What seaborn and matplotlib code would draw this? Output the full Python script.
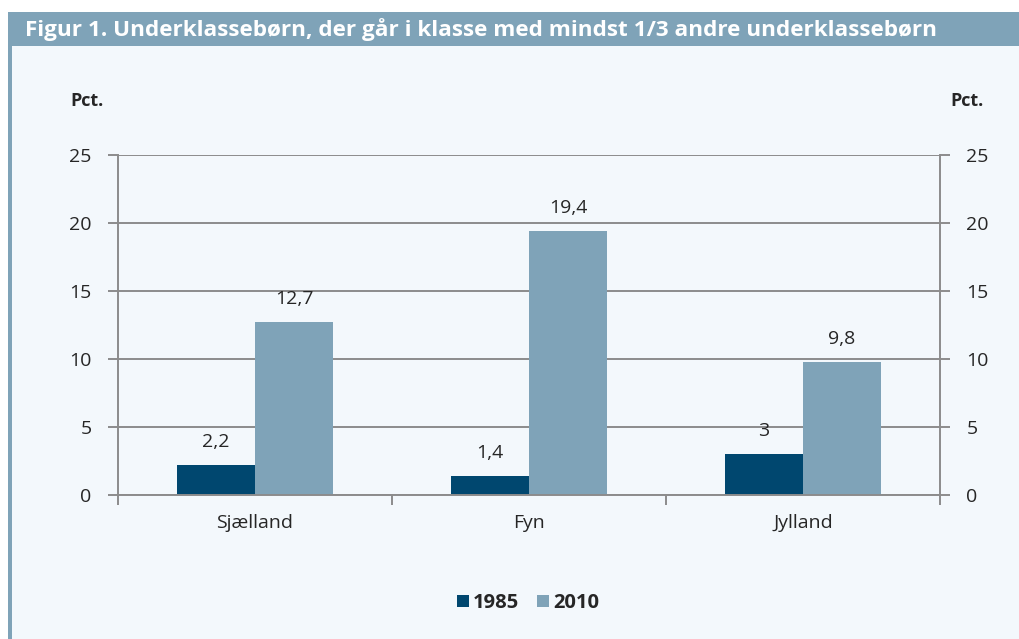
import pandas as pd
import seaborn as sns
import matplotlib.pyplot as plt
from matplotlib.patches import Rectangle

regions = ['Sjælland', 'Fyn', 'Jylland']
years = ['1985', '2010']
pct_1985 = [2.2, 1.4, 3.0]
pct_2010 = [12.7, 19.4, 9.8]
title = 'Figur 1. Underklassebørn, der går i klasse med mindst 1/3 andre underklassebørn'

df = pd.DataFrame({
    'region': regions * 2,
    'year': [years[0]] * 3 + [years[1]] * 3,
    'pct': pct_1985 + pct_2010,
})

dark = '#00476F'
light = '#7FA3B8'
bg = '#F3F8FC'
grid = '#8C8C8C'

sns.set_style('white')
plt.rcParams['font.family'] = ['Open Sans', 'DejaVu Sans']

fig = plt.figure(figsize=(10.2, 6.39), dpi=100)
fig.patch.set_facecolor('white')
# light panel + title band + left border
fig.add_artist(Rectangle((10 / 1020, 0), 1 - 10 / 1020, 1 - 46 / 639,
                         transform=fig.transFigure, facecolor=bg, edgecolor='none', zorder=0))
fig.add_artist(Rectangle((10 / 1020, 1 - 46 / 639), 1, 34 / 639,
                         transform=fig.transFigure, facecolor=light, edgecolor='none', zorder=0))
fig.add_artist(Rectangle((8 / 1020, 0), 4 / 1020, 1 - 12 / 639,
                         transform=fig.transFigure, facecolor=light, edgecolor='none', zorder=1))
fig.text(25 / 1020, 1 - 30 / 639, title, color='white', fontsize=16.2,
         fontweight='bold', va='center', ha='left')

ax = fig.add_axes([118 / 1020, 1 - 495 / 639, 822 / 1020, 340 / 639])
ax.set_facecolor(bg)

sns.barplot(data=df, x='region', y='pct', hue='year', palette=[dark, light],
            width=0.57, saturation=1, linewidth=0, ax=ax, legend=True)

for cont in ax.containers:
    labels = [('%g' % b.get_height()).replace('.', ',') for b in cont]
    ax.bar_label(cont, labels=labels, padding=10, fontsize=14)

ax.set_ylim(0, 25)
ax.set_xlim(-0.5, 2.5)
ax.set_yticks(range(0, 26, 5))
ax.yaxis.grid(True, color=grid, linewidth=1.4)
ax.set_axisbelow(True)
ax.set_xlabel('')
ax.set_ylabel('')
for s in ['left', 'right', 'bottom']:
    ax.spines[s].set_visible(True)
    ax.spines[s].set_color(grid)
    ax.spines[s].set_linewidth(1.4)
ax.spines['top'].set_visible(False)
ax.tick_params(axis='y', left=True, right=True, labelright=True, direction='out',
               length=7, width=1.4, color=grid, labelsize=14, pad=12)
ax.tick_params(axis='x', length=0, labelsize=14, pad=14)
ax.set_xticks([-0.5, 0.5, 1.5, 2.5], minor=True)
ax.tick_params(axis='x', which='minor', bottom=True, direction='out',
               length=7, width=1.4, color=grid)

fig.text(87 / 1020, 1 - 101 / 639, 'Pct.', fontsize=13, fontweight='bold', ha='center', va='center')
fig.text(967 / 1020, 1 - 101 / 639, 'Pct.', fontsize=13, fontweight='bold', ha='center', va='center')

ax.legend(loc='center', bbox_to_anchor=(528 / 1020, 1 - 603 / 639), bbox_transform=fig.transFigure,
          ncol=2, frameon=False, handlelength=0.6, handleheight=0.6, handletextpad=0.2,
          columnspacing=0.9, prop={'weight': 'bold', 'size': 14.5})

plt.savefig('out.png', dpi=100, facecolor=fig.get_facecolor())
